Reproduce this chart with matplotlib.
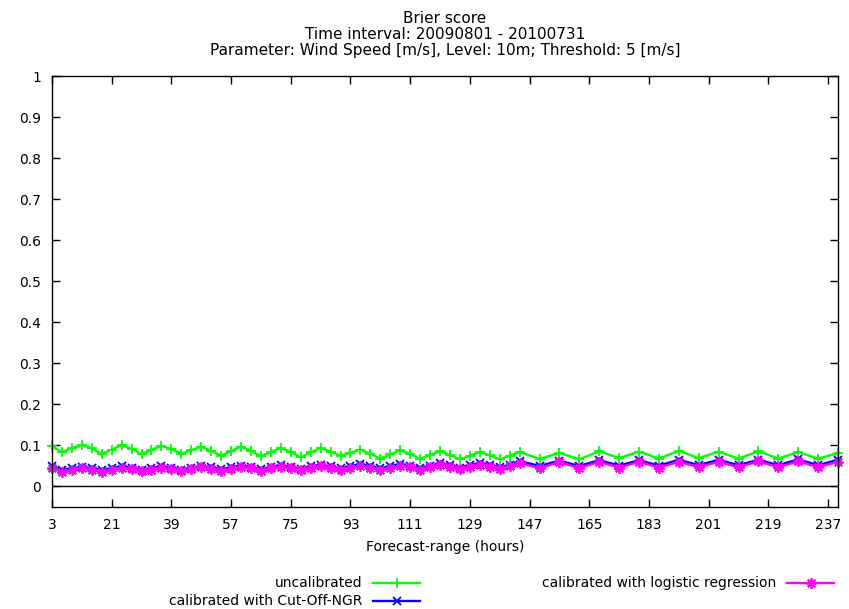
import matplotlib
matplotlib.use("Agg")
import matplotlib.pyplot as plt
from matplotlib.lines import Line2D

plt.rcParams['font.family'] = ['DejaVu Sans']

# Forecast ranges: 3-hourly up to 144 h, then 6-hourly up to 240 h
hours = list(range(3, 145, 3)) + list(range(150, 241, 6))

uncalibrated = [
    0.098, 0.084, 0.093, 0.102, 0.093, 0.079, 0.090, 0.101, 0.092, 0.079,
    0.089, 0.099, 0.091, 0.080, 0.088, 0.097, 0.087, 0.075, 0.086, 0.097,
    0.087, 0.074, 0.084, 0.094, 0.084, 0.071, 0.083, 0.094, 0.085, 0.075,
    0.082, 0.090, 0.080, 0.068, 0.078, 0.088, 0.080, 0.067, 0.077, 0.086,
    0.077, 0.066, 0.075, 0.084, 0.076, 0.066, 0.075, 0.084,
    0.067, 0.082, 0.066, 0.086, 0.069, 0.085, 0.068, 0.087, 0.069, 0.085,
    0.068, 0.086, 0.068, 0.084, 0.068, 0.081,
]

cutoff_ngr = [
    0.050, 0.041, 0.044, 0.048, 0.045, 0.040, 0.045, 0.049, 0.046, 0.041,
    0.045, 0.049, 0.046, 0.041, 0.046, 0.050, 0.047, 0.042, 0.047, 0.051,
    0.048, 0.042, 0.048, 0.052, 0.048, 0.043, 0.049, 0.053, 0.049, 0.044,
    0.050, 0.054, 0.050, 0.044, 0.050, 0.055, 0.051, 0.045, 0.051, 0.056,
    0.052, 0.046, 0.052, 0.058, 0.053, 0.047, 0.053, 0.062,
    0.050, 0.063, 0.050, 0.064, 0.051, 0.064, 0.051, 0.065, 0.052, 0.065,
    0.052, 0.065, 0.052, 0.066, 0.052, 0.065,
]

logistic = [
    0.046, 0.036, 0.040, 0.045, 0.041, 0.036, 0.041, 0.046, 0.042, 0.037,
    0.041, 0.046, 0.042, 0.037, 0.042, 0.047, 0.043, 0.038, 0.043, 0.048,
    0.044, 0.038, 0.044, 0.048, 0.044, 0.039, 0.045, 0.049, 0.045, 0.040,
    0.046, 0.050, 0.046, 0.040, 0.046, 0.051, 0.047, 0.041, 0.047, 0.052,
    0.048, 0.042, 0.048, 0.053, 0.048, 0.043, 0.049, 0.057,
    0.045, 0.059, 0.045, 0.060, 0.046, 0.060, 0.046, 0.060, 0.047, 0.060,
    0.047, 0.061, 0.047, 0.061, 0.047, 0.060,
]

xticks = list(range(3, 238, 18))
yticks = [round(0.1 * i, 1) for i in range(11)]
ytick_labels = ["0", "0.1", "0.2", "0.3", "0.4", "0.5", "0.6", "0.7", "0.8", "0.9", "1"]

# label, values, colour, marker, marker size
series = [
    ("uncalibrated", uncalibrated, "#00ff00", "+", 6.5),
    ("calibrated with Cut-Off-NGR", cutoff_ngr, "#0000ff", "x", 5.5),
    ("calibrated with logistic regression", logistic, "#ff00ff", (8, 2, 0), 7.5),
]

fig = plt.figure(figsize=(8.49, 6.09), dpi=100)
ax = fig.add_axes([52 / 849, 1 - 507 / 609, (838 - 52) / 849, (507 - 76) / 609])

for label, vals, color, marker, ms in series:
    ax.plot(hours, vals, color=color, lw=1.7, marker=marker, ms=ms, mew=1.3,
            label=label, clip_on=False)

ax.axhline(0, color="black", lw=1.0)
ax.set_xlim(3, 240)
ax.set_ylim(-0.05, 1)
ax.set_xticks(xticks)
ax.set_yticks(yticks)
ax.set_yticklabels(ytick_labels)
ax.tick_params(direction="in", length=6, width=1, top=True, right=True,
               labelsize=10, pad=8)
for s in ax.spines.values():
    s.set_linewidth(1.0)

ax.set_xlabel("Forecast-range (hours)", fontsize=10, labelpad=6)
ax.set_title("Brier score\nTime interval: 20090801 - 20100731\n"
             "Parameter: Wind Speed [m/s], Level: 10m; Threshold: 5 [m/s]",
             fontsize=11, linespacing=1.1, pad=15)

# Key below the plot: text right-aligned, line sample to the right
key_pos = [(362, 583), (362, 601), (776, 583)]
for (label, vals, color, marker, ms), (tx, ty) in zip(series, key_pos):
    yf = 1 - ty / 609
    fig.text(tx / 849, yf, label, ha="right", va="center", fontsize=10)
    x0, x1 = (tx + 11) / 849, (tx + 58) / 849
    fig.add_artist(Line2D([x0, x1], [yf, yf], transform=fig.transFigure,
                          color=color, lw=1.7))
    fig.add_artist(Line2D([(x0 + x1) / 2], [yf], transform=fig.transFigure,
                          color=color, marker=marker, ms=ms, mew=1.3))

fig.savefig("out.png", dpi=100)
